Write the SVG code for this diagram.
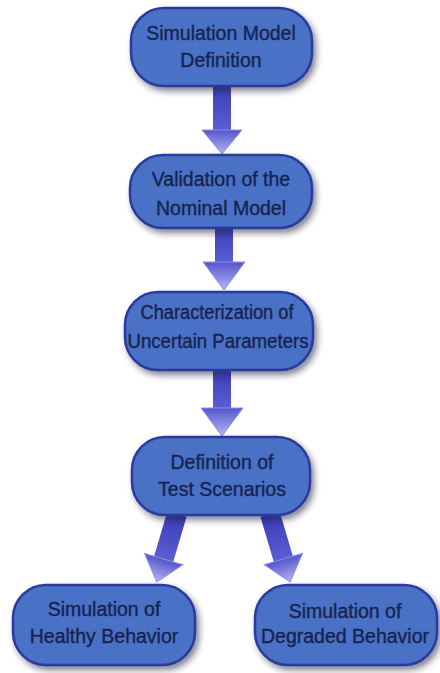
<svg xmlns="http://www.w3.org/2000/svg" width="440" height="673" viewBox="0 0 440 673">
<defs>
<style>
.box{fill:#4a71c6;stroke:#2b3a9e;stroke-width:2.5;filter:url(#sh)}
.lbl{font-family:"Liberation Sans",Arial,sans-serif;font-size:19.5px;fill:#17234f;stroke:#17234f;stroke-width:0.35;text-anchor:middle}
.shaft{fill:url(#gs)}
.head{fill:url(#gh);stroke:#8e8ee6;stroke-width:1}
</style>
<filter id="sh" x="-20%" y="-20%" width="150%" height="150%">
<feDropShadow dx="3" dy="4" stdDeviation="3" flood-color="#1a1a3a" flood-opacity="0.55"/>
</filter>
<linearGradient id="gs" x1="0" y1="0" x2="0" y2="1">
<stop offset="0" stop-color="#3a3cb8"/>
<stop offset="1" stop-color="#5c5ed2"/>
</linearGradient>
<linearGradient id="gh" x1="0" y1="0" x2="0" y2="1">
<stop offset="0" stop-color="#5456cc"/>
<stop offset="1" stop-color="#b4b4f2"/>
</linearGradient>
</defs>
<rect width="440" height="673" fill="#ffffff"/>
<g id="connectors">
<g transform="translate(222,84)">
<rect class="shaft" x="-9" y="0" width="18" height="47"/>
<polygon class="head" points="-20,46 20,46 0,70"/>
</g>
<g transform="translate(224,226)">
<rect class="shaft" x="-9" y="0" width="18" height="37"/>
<polygon class="head" points="-21,36 21,36 0,64"/>
</g>
<g transform="translate(222,368)">
<rect class="shaft" x="-9" y="0" width="18" height="41"/>
<polygon class="head" points="-21,40 21,40 0,68"/>
</g>
<g transform="translate(177,514) rotate(16.5)">
<rect class="shaft" x="-10" y="0" width="20" height="48"/>
<polygon class="head" points="-20,47 20,47 0,71"/>
</g>
<g transform="translate(270,514) rotate(-16.5)">
<rect class="shaft" x="-10" y="0" width="20" height="48"/>
<polygon class="head" points="-20,47 20,47 0,71"/>
</g>
</g>
<g id="n1">
<rect class="box" x="131" y="8" width="181" height="78" rx="33"/>
<text class="lbl" x="221" y="40">Simulation Model</text>
<text class="lbl" x="221" y="67">Definition</text>
</g>
<g id="n2">
<rect class="box" x="130" y="155" width="182" height="73" rx="33"/>
<text class="lbl" x="221" y="186">Validation of the</text>
<text class="lbl" x="221" y="215">Nominal Model</text>
</g>
<g id="n3">
<rect class="box" x="125" y="292" width="188" height="78" rx="33"/>
<text class="lbl" x="217" y="319" textLength="153" lengthAdjust="spacingAndGlyphs">Characterization of</text>
<text class="lbl" x="218" y="348" textLength="181" lengthAdjust="spacingAndGlyphs">Uncertain Parameters</text>
</g>
<g id="n4">
<rect class="box" x="132" y="437" width="178" height="78" rx="33"/>
<text class="lbl" x="222" y="469">Definition of</text>
<text class="lbl" x="222" y="496">Test Scenarios</text>
</g>
<g id="n5">
<rect class="box" x="13" y="585" width="182" height="80" rx="33"/>
<text class="lbl" x="104" y="616">Simulation of</text>
<text class="lbl" x="104" y="643">Healthy Behavior</text>
</g>
<g id="n6">
<rect class="box" x="255" y="585" width="182" height="80" rx="33"/>
<text class="lbl" x="345" y="618">Simulation of</text>
<text class="lbl" x="345" y="643">Degraded Behavior</text>
</g>
</svg>
